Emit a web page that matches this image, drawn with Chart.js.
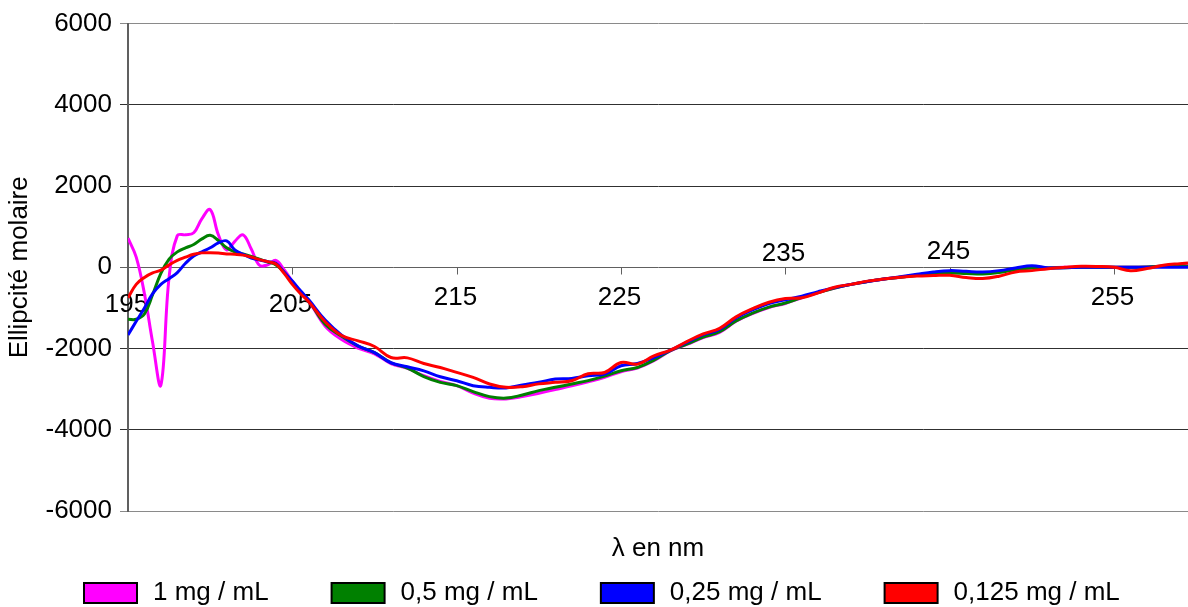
<!DOCTYPE html>
<html>
<head>
<meta charset="utf-8">
<script src="https://cdn.jsdelivr.net/npm/chart.js@4.4.0/dist/chart.umd.min.js"></script>
<style>
  html, body { margin: 0; padding: 0; background: #fff; overflow: hidden; }
  canvas { display: block; }
</style>
</head>
<body>
<canvas id="cdChart" width="1188" height="607"></canvas>
<script>
// wavelength (nm) - finer steps at the start where the curves wiggle
const wavelengths = [195, 195.5, 196, 196.5, 197, 197.5, 198, 198.5, 199, 199.5, 200, 200.5,
  201, 201.5, 202, 202.5, 203, 203.5, 204, 204.5, 205, 205.5, 206,
  207, 208, 209, 210, 211, 212, 213, 214, 215, 216, 217, 218, 219, 220, 221, 222, 223, 224,
  225, 226, 227, 228, 229, 230, 231, 232, 233, 234, 235, 236, 237, 238, 239, 240, 241, 242,
  243, 244, 245, 246, 247, 248, 249, 250, 251, 252, 253, 254, 255, 256, 257, 258, 259, 259.5];

const conc1 = [717, 250, -650, -1850, -2900, -250, 780, 800, 850, 1200, 1420, 800,
  430, 640, 800, 450, 50, 60, 170, -60, -350, -600, -830,
  -1450, -1780, -1990, -2130, -2370, -2490, -2670, -2810, -2914, -3100, -3225, -3240, -3184, -3100, -3010, -2920, -2820, -2710,
  -2570, -2480, -2300, -2060, -1900, -1730, -1600, -1330, -1140, -990, -890, -750, -620, -510, -420, -350, -290, -245,
  -190, -150, -110, -120, -140, -110, -50, -10, -10, 0, 0, 0, 0, 0, 10, 30, 40, 40];

const conc05 = [-1281, -1280, -1150, -670, -150, 200, 380, 480, 560, 700, 790, 660,
  480, 380, 330, 270, 200, 130, 60, -120, -380, -600, -820,
  -1400, -1700, -1940, -2100, -2350, -2480, -2690, -2833, -2914, -3061, -3184, -3220, -3143, -3037, -2955, -2873, -2790, -2680,
  -2547, -2466, -2286, -2050, -1890, -1720, -1584, -1320, -1130, -980, -880, -740, -620, -510, -420, -350, -290, -245,
  -200, -163, -139, -150, -163, -130, -60, -16, -16, -10, 0, 0, 0, 0, 10, 30, 40, 24];

const conc025 = [-1665, -1330, -1000, -650, -420, -280, -130, 100, 280, 380, 480, 600,
  650, 430, 320, 230, 180, 140, 100, -120, -340, -580, -800,
  -1300, -1670, -1935, -2100, -2350, -2450, -2550, -2694, -2792, -2914, -2955, -2970, -2898, -2830, -2751, -2735, -2670, -2630,
  -2425, -2368, -2221, -2040, -1850, -1660, -1527, -1250, -1050, -890, -800, -710, -600, -500, -420, -350, -290, -230,
  -170, -114, -82, -100, -114, -82, -16, 41, -16, -10, 0, 0, 0, 0, 0, 0, 0, 0];

const conc0125 = [-751, -420, -250, -140, -70, 60, 170, 250, 320, 355, 360, 350,
  330, 320, 300, 250, 190, 140, 80, -150, -420, -650, -850,
  -1340, -1680, -1810, -1950, -2220, -2230, -2370, -2466, -2588, -2711, -2873, -2955, -2939, -2870, -2833, -2792, -2620, -2590,
  -2344, -2384, -2180, -2040, -1830, -1640, -1502, -1220, -1020, -860, -770, -751, -630, -490, -420, -340, -290, -245,
  -215, -204, -196, -250, -278, -220, -114, -82, -33, 0, 24, 20, 0, -82, -30, 49, 90, 106];

const seriesLabels = ['1 mg / mL', '0,5 mg / mL', '0,25 mg / mL', '0,125 mg / mL'];
const seriesColors = ['#ff00ff', '#008000', '#0000ff', '#ff0000'];
const xTickValues = [195, 205, 215, 225, 235, 245, 255];

// where each x label sits relative to the zero line (px)
const xLabelOffsets = [37, 37, 30, 30, -14, -16, 30];

const FONT = '"Liberation Sans", Arial, sans-serif';

function toPoints(values) {
  return wavelengths.map((w, i) => ({ x: w, y: values[i] }));
}

// x axis ticks are drawn on the zero line, labels above or below it
const zeroAxisLabels = {
  id: 'zeroAxisLabels',
  beforeDatasetsDraw(chart) {
    const ctx = chart.ctx;
    const xs = chart.scales.x;
    const y0 = Math.round(chart.scales.y.getPixelForValue(0)) + 0.5;
    ctx.save();
    ctx.strokeStyle = '#606060';
    ctx.lineWidth = 1;
    ctx.font = '26px ' + FONT;
    ctx.fillStyle = '#000';
    ctx.textAlign = 'center';
    ctx.textBaseline = 'middle';
    xTickValues.forEach((v, i) => {
      const px = Math.round(xs.getPixelForValue(v)) + 0.5;
      ctx.beginPath();
      ctx.moveTo(px, y0);
      ctx.lineTo(px, y0 + 7);
      ctx.stroke();
      ctx.fillText(String(v), px - 2, y0 + xLabelOffsets[i]);
    });
    ctx.restore();
  }
};

const bottomLegend = {
  id: 'bottomLegend',
  afterDraw(chart) {
    const ctx = chart.ctx;
    const yMid = chart.height - 14;
    let x = 84;
    ctx.save();
    ctx.font = '26px ' + FONT;
    ctx.textAlign = 'left';
    ctx.textBaseline = 'middle';
    chart.data.datasets.forEach(ds => {
      ctx.fillStyle = ds.borderColor;
      ctx.fillRect(x, yMid - 10, 53, 20);
      ctx.strokeStyle = '#000';
      ctx.lineWidth = 2;
      ctx.strokeRect(x, yMid - 10, 53, 20);
      ctx.fillStyle = '#000';
      ctx.fillText(ds.label, x + 69, yMid);
      x += 69 + ctx.measureText(ds.label).width + 63;
    });
    ctx.restore();
  }
};

const allSeries = [conc1, conc05, conc025, conc0125];

new Chart(document.getElementById('cdChart'), {
  type: 'line',
  data: {
    datasets: allSeries.map((vals, i) => ({
      label: seriesLabels[i],
      data: toPoints(vals),
      borderColor: seriesColors[i],
      backgroundColor: seriesColors[i],
      order: 4 - i
    }))
  },
  options: {
    responsive: false,
    animation: false,
    layout: { padding: { top: 21, right: 0, bottom: 40, left: 0 } },
    plugins: {
      legend: { display: false },
      tooltip: { enabled: false }
    },
    elements: {
      point: { radius: 0 },
      line: { borderWidth: 3, tension: 0.4, fill: false }
    },
    scales: {
      x: {
        type: 'linear',
        min: 195,
        max: 259.5,
        grid: { display: false },
        border: { display: false },
        ticks: { display: false },
        title: {
          display: true,
          text: 'λ en nm',
          color: '#000',
          font: { family: FONT, size: 26 },
          padding: { top: 0, bottom: 3 }
        },
        afterFit(scale) { scale.height = 56; }
      },
      y: {
        min: -6000,
        max: 6000,
        ticks: {
          stepSize: 2000,
          color: '#000',
          padding: 8,
          font: { family: FONT, size: 26 },
          callback: v => String(v)
        },
        grid: {
          tickLength: 8,
          lineWidth: 1,
          color: ctx => {
            const v = ctx.tick ? ctx.tick.value : 0;
            if (v === 6000 || v === -6000) return '#8a8a8a';
            if (v === 0) return '#606060';
            return '#303030';
          }
        },
        border: { color: '#606060', width: 2 },
        title: {
          display: true,
          text: 'Ellipcité molaire',
          color: '#000',
          font: { family: FONT, size: 26 },
          padding: { top: 4, bottom: 0 }
        },
        afterFit(scale) { scale.width = 128; }
      }
    }
  },
  plugins: [zeroAxisLabels, bottomLegend]
});
</script>
</body>
</html>
